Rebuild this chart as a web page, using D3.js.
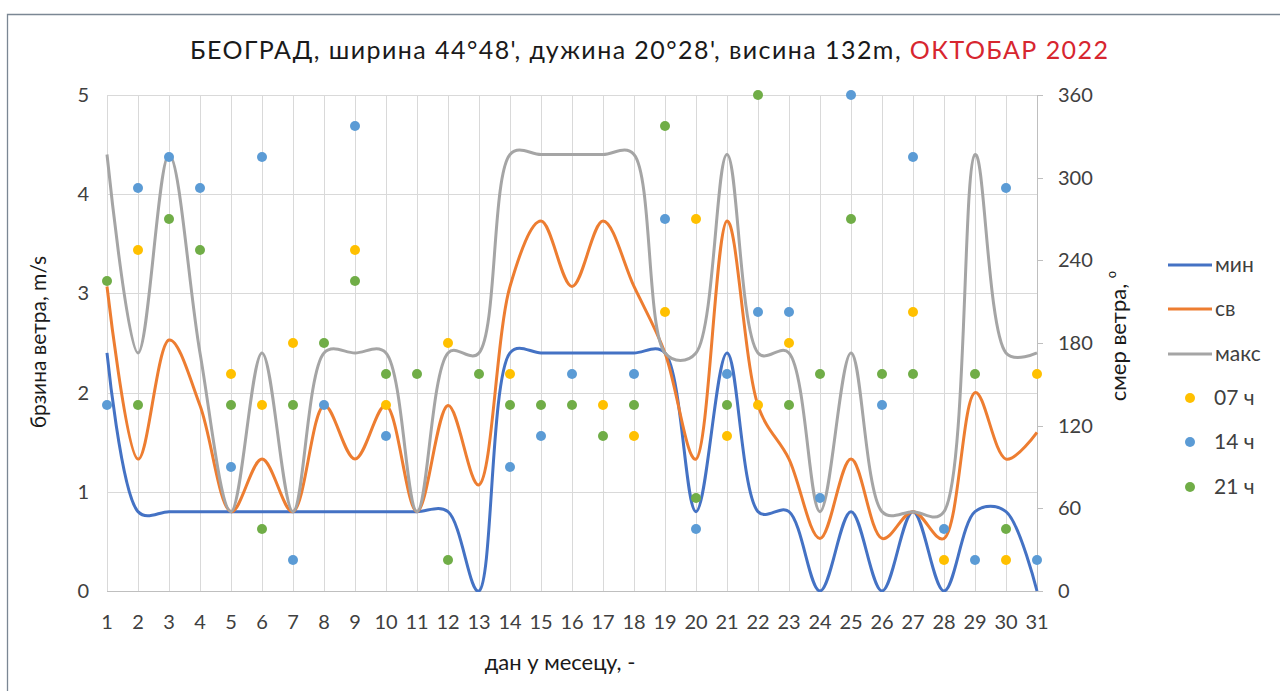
<!DOCTYPE html>
<html><head><meta charset="utf-8">
<script src="https://cdn.jsdelivr.net/npm/d3@7"></script>
<style>
body{margin:0;background:#fff;}
svg{display:block;font-family:Lato, "Open Sans", sans-serif;}
</style></head>
<body><svg id="c" width="1280" height="691"></svg>
<script>
const days = d3.range(1, 32);
const speedMin = [2.4,0.8,0.8,0.8,0.8,0.8,0.8,0.8,0.8,0.8,0.8,0.8,0,2.4,2.4,2.4,2.4,2.4,2.4,0.8,2.4,0.8,0.8,0,0.8,0,0.8,0,0.8,0.8,0];
const speedMean = [3.07,1.33,2.53,1.87,0.8,1.33,0.8,1.87,1.33,1.87,0.8,1.87,1.07,3.07,3.73,3.07,3.73,3.07,2.4,1.33,3.73,1.87,1.33,0.53,1.33,0.53,0.8,0.53,2.0,1.33,1.6];
const speedMax = [4.4,2.4,4.4,2.4,0.8,2.4,0.8,2.4,2.4,2.4,0.8,2.4,2.4,4.4,4.4,4.4,4.4,4.4,2.4,2.4,4.4,2.4,2.4,0.8,2.4,0.8,0.8,0.8,4.4,2.4,2.4];
// wind direction (degrees); null = no observation
const dir07 = [null,247.5,null,null,157.5,135,180,null,247.5,135,null,180,null,157.5,null,null,135,112.5,202.5,270,112.5,135,180,null,null,null,202.5,22.5,null,22.5,157.5];
const dir14 = [135,292.5,315,292.5,90,315,22.5,135,337.5,112.5,null,null,null,90,112.5,157.5,null,157.5,270,45,157.5,202.5,202.5,67.5,360,135,315,45,22.5,292.5,22.5];
const dir21 = [225,135,270,247.5,135,45,135,180,225,157.5,157.5,22.5,157.5,135,135,135,112.5,135,337.5,67.5,135,360,135,157.5,270,157.5,157.5,null,157.5,45,null];
const leftTicks = [0,1,2,3,4,5];
const rightTicks = [0,60,120,180,240,300,360];

const svg = d3.select('#c');
const X0 = 107, X1 = 1037, Y0 = 591, Y1 = 95;
const x = d3.scaleLinear().domain([1,31]).range([X0,X1]);
const yL = d3.scaleLinear().domain([0,5]).range([Y0,Y1]);
const yR = d3.scaleLinear().domain([0,360]).range([Y0,Y1]);

// outer border
svg.append('path').attr('d','M7.5,691 L7.5,14.5 L1280,14.5').attr('fill','none').attr('stroke','#7b8794').attr('stroke-width',1.3);

// gridlines
const grid = svg.append('g');
grid.selectAll('.h').data(leftTicks).join('line')
  .attr('x1',X0).attr('x2',X1).attr('y1',d=>Math.round(yL(d))+0.5).attr('y2',d=>Math.round(yL(d))+0.5)
  .attr('stroke','#d9d9d9').attr('stroke-width',1);
grid.selectAll('.v').data(days).join('line')
  .attr('x1',d=>Math.round(x(d))+0.5).attr('x2',d=>Math.round(x(d))+0.5).attr('y1',Y1).attr('y2',Y0)
  .attr('stroke','#d9d9d9').attr('stroke-width',1);
svg.append('line').attr('x1',X0).attr('x2',X1).attr('y1',Y0+0.5).attr('y2',Y0+0.5).attr('stroke','#bfbfbf');
svg.append('line').attr('x1',X1+0.5).attr('x2',X1+0.5).attr('y1',Y1).attr('y2',Y0).attr('stroke','#bfbfbf');
svg.selectAll('.rt').data(rightTicks).join('line')
  .attr('x1',X1).attr('x2',X1+6).attr('y1',d=>Math.round(yR(d))+0.5).attr('y2',d=>Math.round(yR(d))+0.5).attr('stroke','#bfbfbf');

const tickFont = 20;
svg.selectAll('.lt').data(leftTicks).join('text')
  .attr('x',89).attr('y',d=>yL(d)+7).attr('text-anchor','end').attr('font-size',tickFont).attr('fill','#404040').text(d=>d);
svg.selectAll('.rtt').data(rightTicks).join('text')
  .attr('x',1058).attr('y',d=>yR(d)+7).attr('text-anchor','start').attr('font-size',tickFont).attr('fill','#404040').text(d=>d);
svg.selectAll('.xt').data(days).join('text')
  .attr('x',d=>x(d)).attr('y',629).attr('text-anchor','middle').attr('font-size',tickFont).attr('fill','#404040').text(d=>d);

// titles
const title = svg.append('text').attr('x',190).attr('y',59).attr('text-anchor','start').attr('font-size',25).attr('fill','#1a1a1a')
  .attr('textLength',918).attr('lengthAdjust','spacing');
title.append('tspan').text("БЕОГРАД, ширина 44°48', дужина 20°28', висина 132m, ");
title.append('tspan').attr('fill','#d7262f').text('ОКТОБАР  2022');

svg.append('text').attr('x',560).attr('y',670).attr('text-anchor','middle').attr('font-size',22).attr('fill','#1a1a1a').text('дан у месецу, -');
svg.append('text').attr('transform','translate(46,342) rotate(-90)').attr('text-anchor','middle').attr('font-size',21).attr('fill','#1a1a1a').text('брзина ветра, m/s');
const rt = svg.append('text').attr('transform','translate(1126,336) rotate(-90)').attr('text-anchor','middle').attr('font-size',22).attr('fill','#1a1a1a');
rt.append('tspan').text('смер ветра, ');
rt.append('tspan').attr('font-size',13).attr('dy',-10).text('o');

// clip
svg.append('clipPath').attr('id','pc').append('rect').attr('x',X0-5).attr('y',Y1-5).attr('width',X1-X0+10).attr('height',Y0-Y1+6);

const lineGen = d3.line().x((d,i)=>x(days[i])).y(d=>yL(d)).curve(d3.curveCatmullRom.alpha(0.4));
const lines = [
  {name:'мин', data:speedMin, color:'#4472c4'},
  {name:'св', data:speedMean, color:'#ed7d31'},
  {name:'макс', data:speedMax, color:'#a5a5a5'}
];
const lg = svg.append('g').attr('clip-path','url(#pc)');
lines.forEach(s=>{
  lg.append('path').datum(s.data).attr('d',lineGen).attr('fill','none').attr('stroke',s.color).attr('stroke-width',3).attr('stroke-linejoin','round');
});

const pts = [
  {name:'07 ч', data:dir07, color:'#ffc000'},
  {name:'14 ч', data:dir14, color:'#5b9bd5'},
  {name:'21 ч', data:dir21, color:'#70ad47'}
];
pts.forEach(s=>{
  svg.append('g').selectAll('circle').data(days.filter((d,i)=>s.data[i]!==null)).join('circle')
    .attr('cx',d=>x(d)).attr('cy',d=>yR(s.data[d-1])).attr('r',5).attr('fill',s.color);
});

// legend
const legY = [265,309,354];
lines.forEach((s,i)=>{
  svg.append('line').attr('x1',1168).attr('x2',1212).attr('y1',legY[i]).attr('y2',legY[i]).attr('stroke',s.color).attr('stroke-width',3);
  svg.append('text').attr('x',1215).attr('y',legY[i]+7).attr('font-size',21).attr('fill','#404040').text(s.name);
});
const legPY = [398,442,487];
pts.forEach((s,i)=>{
  svg.append('circle').attr('cx',1190).attr('cy',legPY[i]).attr('r',5).attr('fill',s.color);
  svg.append('text').attr('x',1214).attr('y',legPY[i]+7).attr('font-size',21).attr('fill','#404040').text(s.name);
});
</script></body></html>
